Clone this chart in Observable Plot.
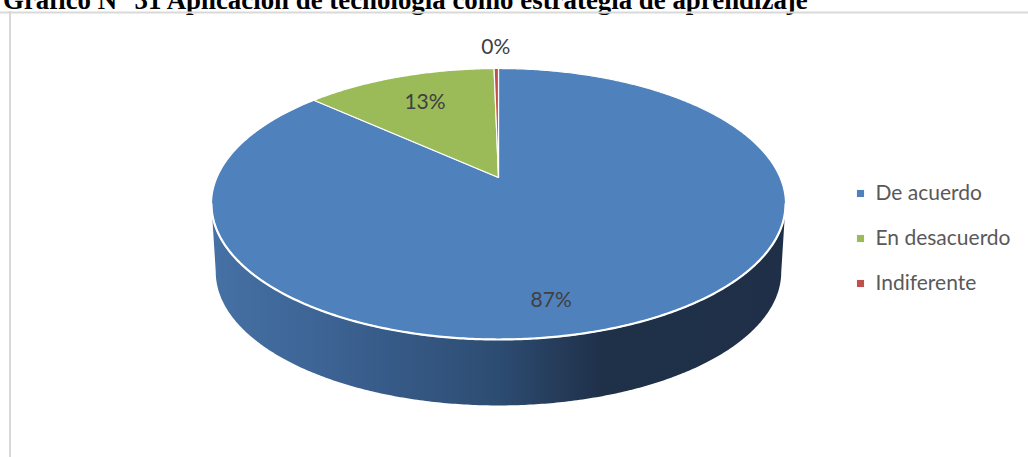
<!DOCTYPE html>
<html><head><meta charset="utf-8">
<script src="https://cdn.jsdelivr.net/npm/d3@7"></script>
<script src="https://cdn.jsdelivr.net/npm/@observablehq/plot@0.6"></script>
<style>
body{margin:0;background:#fff;}
#title{display:block;overflow:visible}
#chart svg{display:block}
</style></head><body>
<svg id="title" width="1028" height="11"><text id="titleText" x="3" y="9" font-family="Liberation Serif" font-weight="bold" font-size="21" fill="#000">Gráfico N° 31 Aplicación de tecnología como estrategia de aprendizaje</text></svg>
<div id="chart"></div>
<script>
// ---- data ----
const categories = ["De acuerdo", "En desacuerdo", "Indiferente"];
const values = [86.7, 13.0, 0.3];
const colors = ["#4F81BD", "#9BBB59", "#C0504D"];

// ---- layout (pixel layout of the 3D pie) ----
const L = {cx: 498, cy: 177, A: 281.5, B: 130.3, p: 0.1956, depth: 68.4, bottomScale: 0.985,
  labelRadius: [0.81, 0.71, 1.24], labelShift: [12.7, 0, 0],
  legendX: 860, legendTextX: 875, legendY0: 193, legendDY: 45};

// fit title width
const tt = document.getElementById("titleText");
const tl = tt.getComputedTextLength();
tt.setAttribute("font-size", 21 * 805 / tl);

function proj(theta, r = 1, level = 0) {
  const t = theta * Math.PI / 180;
  const u = r * Math.sin(t), v = r * Math.cos(t);
  const s = level ? L.bottomScale : 1;
  const w = 1 + L.p * v;
  return {x: L.cx + s * L.A * u / w, y: L.cy + level * L.depth - s * L.B * v / w};
}
function arc(a0, a1, level = 0) {
  const n = Math.max(2, Math.ceil(Math.abs(a1 - a0) / 0.5));
  return d3.range(n + 1).map(i => proj(a0 + (a1 - a0) * i / n, 1, level));
}

const total = d3.sum(values);
let acc = 0;
const slices = values.map((v, i) => {
  const a0 = acc / total * 360; acc += v; const a1 = acc / total * 360;
  return {i, a0, a1, mid: (a0 + a1) / 2, pct: Math.round(v / total * 100) + "%"};
});

const thE = Math.acos(-L.p) * 180 / Math.PI; // silhouette angle
const side = [...arc(thE, 360 - thE, 0), ...arc(360 - thE, thE, 1)];
const frontEdge = arc(thE, 360 - thE, 0);

const labels = slices.map(s => {
  const pt = proj(s.mid + L.labelShift[s.i], L.labelRadius[s.i]);
  return {x: pt.x, y: pt.y, text: s.pct};
});
const legend = categories.map((c, i) => ({x: L.legendX, tx: L.legendTextX, y: L.legendY0 + i * L.legendDY, c, color: colors[i]}));

const marks = [
  Plot.ruleX([9.5], {stroke: "#d9d9d9", strokeWidth: 2}),
  Plot.ruleY([12], {stroke: "#d9d9d9", strokeWidth: 2}),
  Plot.line(side, {x: "x", y: "y", fill: "#010203", stroke: "none", curve: "linear-closed"}),
];
slices.forEach(s => {
  const pts = [proj(0, 0), ...arc(s.a0, s.a1, 0)];
  marks.push(Plot.line(pts, {x: "x", y: "y", fill: colors[s.i], stroke: "white", strokeWidth: 1.2, strokeLinejoin: "round", curve: "linear-closed"}));
});
marks.push(Plot.line(frontEdge, {x: "x", y: "y", stroke: "white", strokeWidth: 2.2}));
marks.push(Plot.text(labels, {x: "x", y: "y", text: "text", fontSize: 21, fill: "#404040", fontFamily: "Lato"}));
marks.push(Plot.dot(legend, {x: "x", y: "y", symbol: "square", r: 4, fill: "color", stroke: null}));
marks.push(Plot.text(legend, {x: "tx", y: "y", text: "c", textAnchor: "start", fontSize: 21, fill: "#595959", fontFamily: "Lato"}));

const svg = Plot.plot({
  width: 1028, height: 446,
  margin: 0,
  x: {domain: [0, 1028], axis: null},
  y: {domain: [457, 11], axis: null},
  color: {type: "identity"},
  style: {background: "white"},
  marks
});
const defs = d3.select(svg).insert("defs", ":first-child");
const g = defs.append("linearGradient").attr("id", "sideGrad").attr("gradientUnits", "userSpaceOnUse")
  .attr("x1", 211).attr("x2", 785).attr("y1", 0).attr("y2", 0);
[[0, "#4671A4"], [0.2, "#3C6394"], [0.5, "#2D4C72"], [0.68, "#1F3049"], [1, "#1E2F47"]]
  .forEach(([o, c]) => g.append("stop").attr("offset", o).attr("stop-color", c));
svg.querySelectorAll('[fill="#010203"]').forEach(el => el.setAttribute("fill", "url(#sideGrad)"));
document.getElementById("chart").appendChild(svg);
</script>
</body></html>
